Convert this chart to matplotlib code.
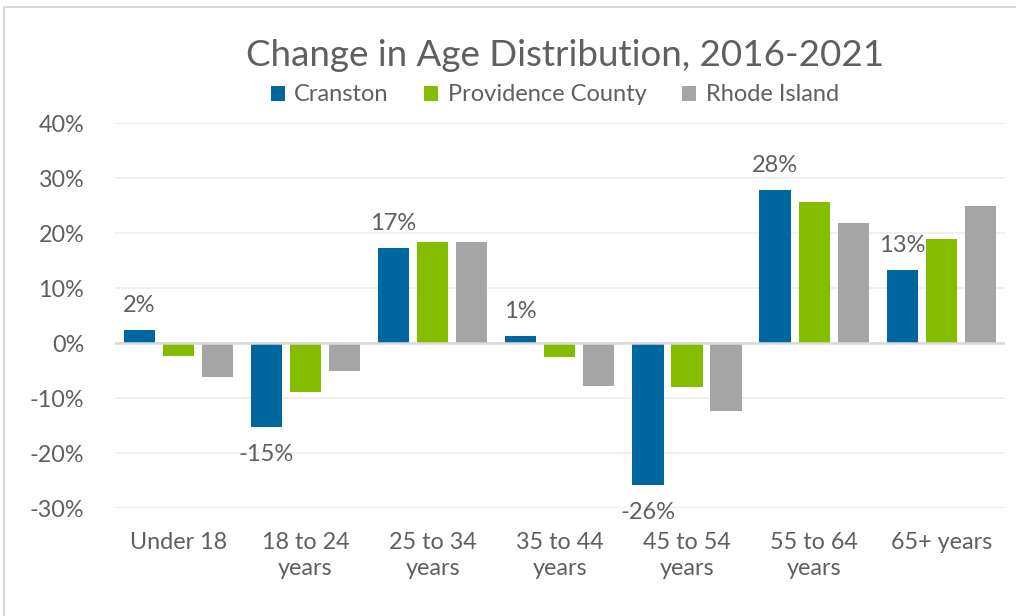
import numpy as np
import matplotlib
matplotlib.use("Agg")
import matplotlib.pyplot as plt
from matplotlib.patches import Rectangle
from matplotlib.ticker import FuncFormatter

# chart data
categories = ["Under 18", "18 to 24\nyears", "25 to 34\nyears", "35 to 44\nyears",
              "45 to 54\nyears", "55 to 64\nyears", "65+ years"]
series_names = ["Cranston", "Providence County", "Rhode Island"]
cranston = [2.4, -15.3, 17.3, 1.3, -25.8, 27.9, 13.3]
providence = [-2.4, -8.9, 18.4, -2.5, -7.9, 25.6, 18.9]
rhode_island = [-6.1, -5.1, 18.4, -7.8, -12.3, 21.9, 25.0]
cranston_labels = ["2%", "-15%", "17%", "1%", "-26%", "28%", "13%"]
colors = ["#00669F", "#84BD00", "#A5A5A5"]

plt.rcParams["font.family"] = ["Lato", "DejaVu Sans"]
text_color = "#5F5F5F"
weight = "normal"

fig = plt.figure(figsize=(10.16, 6.16), dpi=100)
ax = fig.add_axes([0.113, 0.175, 0.876, 0.625])

x = np.arange(len(categories))
width = 0.245
step = 0.307
for i, (vals, col) in enumerate(zip([cranston, providence, rhode_island], colors)):
    ax.bar(x + (i - 1) * step, vals, width, color=col, label=series_names[i], zorder=3)

# data labels for Cranston only
for xi, v, lab in zip(x, cranston, cranston_labels):
    off = 10 if v >= 0 else -12
    ax.annotate(lab, (xi - step, v), xytext=(0, off), textcoords="offset points",
                ha="center", va="bottom" if v >= 0 else "top",
                fontsize=17, color=text_color, fontweight=weight)

ax.set_xlim(-0.5, len(categories) - 0.5)
ax.set_ylim(-30, 40)
ax.set_yticks(np.arange(-30, 41, 10))
ax.yaxis.set_major_formatter(FuncFormatter(lambda v, p: f"{v:.0f}%"))
ax.set_xticks(x)
ax.set_xticklabels(categories, linespacing=1.3)
ax.tick_params(axis="both", length=0, labelsize=16.8, labelcolor=text_color)
ax.tick_params(axis="x", pad=17)
ax.tick_params(axis="y", pad=22)
for lab in ax.get_xticklabels() + ax.get_yticklabels():
    lab.set_fontweight(weight)

ax.grid(axis="y", color="#EEEEEE", linewidth=1.2, zorder=0)
ax.axhline(0, color="#D9D9D9", linewidth=1.8, zorder=4)
for s in ax.spines.values():
    s.set_visible(False)

fig.text(0.556, 0.91, "Change in Age Distribution, 2016-2021", ha="center", va="center",
         fontsize=26.5, color=text_color, fontweight=weight)
fig.legend(loc="center", bbox_to_anchor=(0.546, 0.846), ncol=3, frameon=False,
           handlelength=0.6, handleheight=0.6, handletextpad=0.4,
           columnspacing=1.5, labelcolor=text_color,
           prop={"weight": weight, "size": 17})

# light frame around the chart area
fig.patches.append(Rectangle((0.004, -0.01), 1.1, 0.999, transform=fig.transFigure,
                             fill=False, edgecolor="#D9D9D9", linewidth=1.5))

fig.savefig("out.png", dpi=100)
